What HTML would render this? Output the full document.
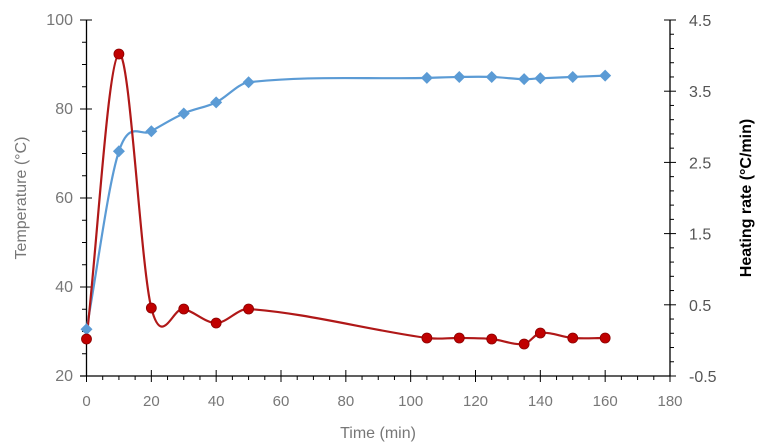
<!DOCTYPE html>
<html><head><style>body{margin:0;background:#fff}svg{display:block;font-family:"Liberation Sans",sans-serif}</style></head>
<body>
<svg id="s" width="758" height="445" xmlns="http://www.w3.org/2000/svg"></svg>
<script>
const s=document.getElementById('s');let h='';
const X=t=>86.5+t*(583.5/180), YL=v=>376-(v-20)*4.45, YR=v=>376-(v+0.5)*71.2;
h+='<line x1="86.5" y1="20" x2="86.5" y2="376" stroke="#000" stroke-width="1.3"/>';
h+='<line x1="670" y1="20" x2="670" y2="376" stroke="#000" stroke-width="1.3"/>';
h+='<line x1="80" y1="376" x2="670" y2="376" stroke="#000" stroke-width="1.3"/>';
for(let v=20;v<=100;v+=5){const y=YL(v);const maj=v%20==0;h+=`<line x1="${maj?80:82}" x2="${maj?92:86.5}" y1="${y}" y2="${y}" stroke="#000"/>`;if(maj)h+=`<text x="73" y="${y+5}" font-size="16" fill="#777" text-anchor="end">${v}</text>`;}
for(let i=0;i<=25;i++){const v=-0.5+i*0.2;const y=YR(v);const maj=i%5==0;h+=`<line x1="${maj?664:670}" x2="${maj?676:674}" y1="${y}" y2="${y}" stroke="#000"/>`;if(maj)h+=`<text x="689" y="${y+6}" font-size="16" fill="#555">${v.toFixed(1)}</text>`;}
for(let t=0;t<=180;t+=5){const x=X(t);const maj=t%20==0;h+=`<line x1="${x}" x2="${x}" y1="${maj?370:376}" y2="${maj?382:380}" stroke="#000"/>`;if(maj)h+=`<text x="${x}" y="406" font-size="15" fill="#777" text-anchor="middle">${t}</text>`;}
h+='<text transform="translate(26,198) rotate(-90)" font-size="16" fill="#777" text-anchor="middle">Temperature (°C)</text>';
h+='<text transform="translate(751,198) rotate(-90)" font-size="16" font-weight="bold" fill="#000" text-anchor="middle">Heating rate (°C/min)</text>';
h+='<text x="378" y="438" font-size="16" fill="#777" text-anchor="middle">Time (min)</text>';
const ts=[0,10,20,30,40,50,105,115,125,135,140,150,160];
const bv=[30.5,70.5,75,79,81.5,86,87,87.2,87.2,86.7,86.9,87.2,87.5];
const rp=[339,54,308,309,323,309,338,338,339,344,333,338,338];
const B=ts.map((t,i)=>[X(t),YL(bv[i])]), R=ts.map((t,i)=>[X(t),rp[i]]);
function path(p){
 const n=p.length,m=[];
 for(let i=0;i<n;i++){const a=p[Math.max(0,i-1)],b=p[Math.min(n-1,i+1)];m.push((b[1]-a[1])/(b[0]-a[0]));}
 let d=`M${p[0][0]},${p[0][1]}`;
 for(let i=0;i<n-1;i++){const p1=p[i],p2=p[i+1],dx=(p2[0]-p1[0])/3;
 d+=`C${p1[0]+dx},${p1[1]+m[i]*dx} ${p2[0]-dx},${p2[1]-m[i+1]*dx} ${p2[0]},${p2[1]}`;}
 return d;}
h+=`<path d="${path(B)}" fill="none" stroke="#5b9bd5" stroke-width="2.2"/>`;
h+=`<path d="${path(R)}" fill="none" stroke="#b01818" stroke-width="2.2"/>`;
B.forEach(p=>h+=`<path d="M${p[0]-6},${p[1]}L${p[0]},${p[1]-6}L${p[0]+6},${p[1]}L${p[0]},${p[1]+6}Z" fill="#5b9bd5"/>`);
R.forEach(p=>h+=`<circle cx="${p[0]}" cy="${p[1]}" r="5" fill="#c00000" stroke="#8b0000" stroke-width="0.8"/>`);
s.innerHTML=h;
</script>
</body></html>
